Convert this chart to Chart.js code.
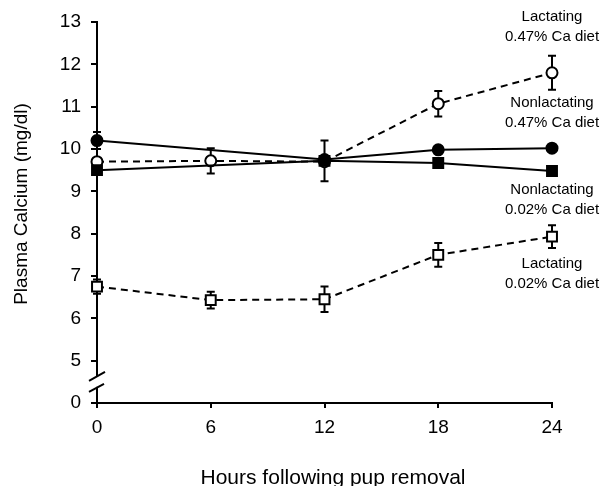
<!DOCTYPE html>
<html>
<head>
<meta charset="utf-8">
<script src="https://cdn.jsdelivr.net/npm/chart.js@4.4.0/dist/chart.umd.min.js"></script>
<style>
  html, body { margin: 0; padding: 0; background: #fff; }
  #wrap { width: 601px; height: 486px; }
</style>
</head>
<body>
<div id="wrap"><canvas id="chart" width="601" height="486"></canvas></div>
<script>
// hours after pup removal
const hours = [0, 6, 12, 18, 24];

// plasma calcium (mg/dl) per group, null = not measured
const lact047 = [9.7, 9.72, 9.7, 11.07, 11.8];
const lact047Err = [0, 0.3, 0, 0.3, 0.4];
const nonlact047 = [10.2, null, 9.75, 9.98, 10.02];
const nonlact047Err = [0.2, 0, 0, 0, 0];
const nonlact002 = [9.5, null, 9.72, 9.67, 9.48];
const nonlact002Err = [0, 0, 0.48, 0, 0];
const lact002 = [6.75, 6.43, 6.45, 7.5, 7.93];
const lact002Err = [0.17, 0.2, 0.3, 0.28, 0.27];

// y ticks: 4 on the axis is shown as "0" (broken axis)
const yMin = 4, yMax = 13;
const xTicks = [0, 6, 12, 18, 24];

// series labels on the right
const groupLabels = [
    { lines: ['Lactating', '0.47% Ca diet'], x: 24, y: 12.88 },
    { lines: ['Nonlactating', '0.47% Ca diet'], x: 24, y: 10.85 },
    { lines: ['Nonlactating', '0.02% Ca diet'], x: 24, y: 8.8 },
    { lines: ['Lactating', '0.02% Ca diet'], x: 24, y: 7.05 }
];

const FONT = '"Liberation Sans", Arial, Helvetica, sans-serif';

function pts(ys, errs) {
    const out = [];
    hours.forEach((h, i) => {
        if (ys[i] !== null) out.push({ x: h, y: ys[i], e: errs[i] });
    });
    return out;
}

function series(ys, errs, filled, shape, dashed) {
    return {
        data: pts(ys, errs),
        clip: false,
        borderColor: '#000',
        borderWidth: 2,
        borderDash: dashed ? [7, 5] : [],
        pointStyle: shape,
        pointRadius: shape === 'rect' ? 7 : 5.5,
        pointBorderWidth: 2,
        pointBorderColor: '#000',
        pointBackgroundColor: filled ? '#000' : '#fff',
        tension: 0
    };
}

// error bars drawn before the markers so the open symbols cover them
const errorBars = {
    id: 'errorBars',
    beforeDatasetsDraw(chart) {
        const ctx = chart.ctx;
        const xs = chart.scales.x, ys = chart.scales.y;
        ctx.save();
        ctx.strokeStyle = '#000';
        ctx.lineWidth = 2;
        chart.data.datasets.forEach(ds => {
            ds.data.forEach(p => {
                if (!p.e) return;
                const px = xs.getPixelForValue(p.x);
                const top = ys.getPixelForValue(p.y + p.e);
                const bot = ys.getPixelForValue(p.y - p.e);
                ctx.beginPath();
                ctx.moveTo(px, top); ctx.lineTo(px, bot);
                ctx.moveTo(px - 4, top); ctx.lineTo(px + 4, top);
                ctx.moveTo(px - 4, bot); ctx.lineTo(px + 4, bot);
                ctx.stroke();
            });
        });
        ctx.restore();
    }
};

// axis break marks, axis titles and group labels
const extras = {
    id: 'extras',
    afterDraw(chart) {
        const ctx = chart.ctx;
        const xs = chart.scales.x, ys = chart.scales.y;
        const ax = xs.getPixelForValue(0);
        const y5 = ys.getPixelForValue(5);
        const y0 = ys.getPixelForValue(4);
        const mid = (y5 + y0) / 2;
        ctx.save();
        ctx.fillStyle = '#fff';
        ctx.fillRect(ax - 3, mid - 5, 6, 10);
        ctx.strokeStyle = '#000';
        ctx.lineWidth = 2;
        ctx.beginPath();
        ctx.moveTo(ax - 8, mid - 1); ctx.lineTo(ax + 8, mid - 10);
        ctx.moveTo(ax - 8, mid + 10); ctx.lineTo(ax + 7, mid + 2);
        ctx.stroke();

        ctx.fillStyle = '#000';
        // axis titles sit a little off the axis centres in the original
        ctx.save();
        ctx.translate(27, 204);
        ctx.rotate(-Math.PI / 2);
        ctx.font = '19px ' + FONT;
        ctx.textAlign = 'center';
        ctx.textBaseline = 'alphabetic';
        ctx.fillText('Plasma Calcium (mg/dl)', 0, 0);
        ctx.restore();

        ctx.font = '21px ' + FONT;
        ctx.textAlign = 'center';
        ctx.textBaseline = 'alphabetic';
        ctx.fillText('Hours following pup removal', 333, 484);

        ctx.font = '15px ' + FONT;
        ctx.textBaseline = 'middle';
        groupLabels.forEach(g => {
            const cx = xs.getPixelForValue(g.x);
            const cy = ys.getPixelForValue(g.y);
            ctx.fillText(g.lines[0], cx, cy - 10);
            ctx.fillText(g.lines[1], cx, cy + 10);
        });
        ctx.restore();
    }
};

new Chart(document.getElementById('chart'), {
    type: 'line',
    data: {
        datasets: [
            series(lact002, lact002Err, false, 'rect', true),
            series(nonlact002, nonlact002Err, true, 'rect', false),
            series(lact047, lact047Err, false, 'circle', true),
            series(nonlact047, nonlact047Err, true, 'circle', false)
        ]
    },
    options: {
        responsive: false,
        animation: false,
        layout: { padding: { top: 22, right: 49, bottom: 0, left: 0 } },
        plugins: {
            legend: { display: false },
            tooltip: { enabled: false }
        },
        scales: {
            x: {
                type: 'linear',
                min: 0,
                max: 24,
                afterBuildTicks: axis => { axis.ticks = xTicks.map(v => ({ value: v })); },
                afterFit: axis => { axis.height = 83; },
                border: { color: '#000', width: 2 },
                grid: { drawOnChartArea: false, color: '#000', lineWidth: 2, tickLength: 5 },
                ticks: { color: '#000', padding: 8, font: { family: FONT, size: 19 } }
            },
            y: {
                min: yMin,
                max: yMax,
                afterFit: axis => { axis.width = 97; },
                border: { color: '#000', width: 2 },
                grid: { drawOnChartArea: false, color: '#000', lineWidth: 2, tickLength: 6 },
                ticks: {
                    stepSize: 1,
                    color: '#000',
                    padding: 10,
                    font: { family: FONT, size: 19 },
                    callback: v => (v === 4 ? '0' : v)
                }
            }
        }
    },
    plugins: [errorBars, extras]
});
</script>
</body>
</html>
